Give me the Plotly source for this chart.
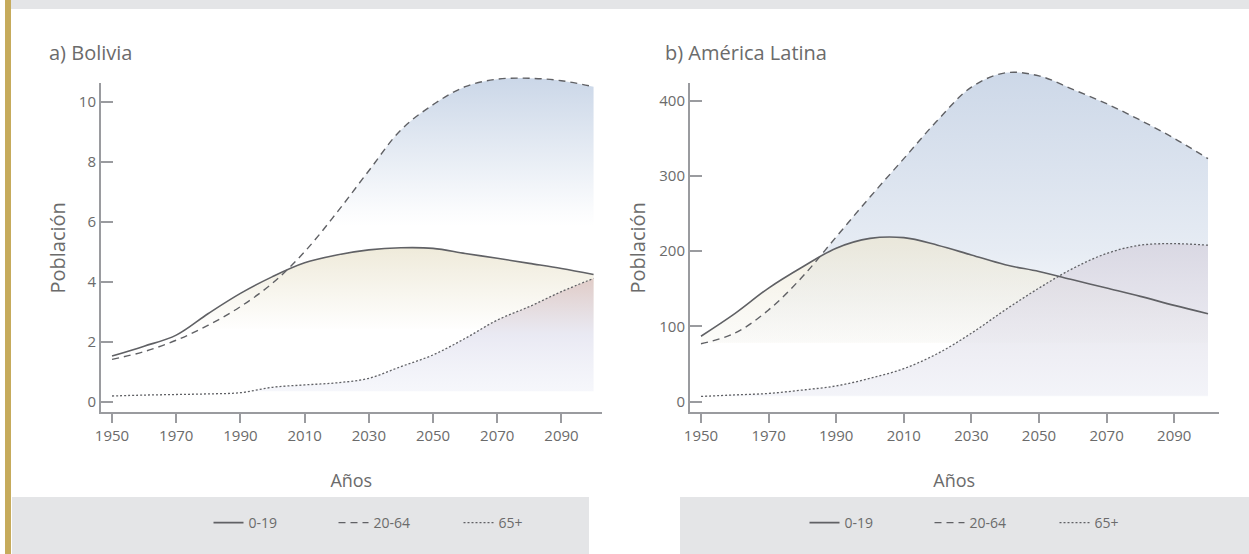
import plotly.graph_objects as go

# ---------------- data ----------------
years = [1950, 1960, 1970, 1980, 1990, 2000, 2010, 2020, 2030, 2040,
         2050, 2060, 2070, 2080, 2090, 2100]

bo_0_19 = [1.52, 1.85, 2.22, 2.94, 3.61, 4.17, 4.63, 4.89, 5.06, 5.13,
           5.11, 4.94, 4.78, 4.61, 4.44, 4.24]
bo_20_64 = [1.41, 1.67, 2.05, 2.55, 3.17, 3.95, 5.0, 6.3, 7.7, 9.06,
            9.9, 10.5, 10.75, 10.78, 10.7, 10.5]
bo_65 = [0.19, 0.22, 0.24, 0.26, 0.30, 0.48, 0.56, 0.63, 0.78, 1.17,
         1.56, 2.11, 2.72, 3.17, 3.67, 4.11]

al_0_19 = [87, 117, 151, 179, 204, 217, 218, 208, 195, 182,
           173, 162, 151, 140, 128, 117]
al_20_64 = [77, 91, 122, 166, 219, 272, 323, 374, 418, 437,
            433, 415, 396, 374, 350, 323]
al_65 = [7, 9, 11, 15.5, 21, 31, 44, 64, 91, 122,
         151, 177, 197, 208, 210, 208]

series_names = ["0-19", "20-64", "65+"]
x_ticks = [1950, 1970, 1990, 2010, 2030, 2050, 2070, 2090]
bo_y_ticks = [0, 2, 4, 6, 8, 10]
al_y_ticks = [0, 100, 200, 300, 400]

# lowest level of each shaded band (where the gradient fades out)
bo_fill_floor = [2.4, 5.85, 0.33]
al_fill_floor = [77.6, 77.6, 6.6]

# ---------------- style ----------------
W, H = 1249, 554
FONT = "Open Sans"
TXT = "#6b6b6b"
AXC = "#9a9b9f"
LINEC = "#606165"
dashes = ["solid", "7px,5px", "2px,2px"]
widths = [1.6, 1.4, 1.3]

def px_x(p):
    return p / W

def px_y(p):
    return 1 - p / H

# gradient colour stops per series (bottom -> top)
bo_grad = [
    [[0, "rgba(236,231,212,0)"], [0.01, "rgba(236,231,212,0.03)"], [1, "rgba(236,231,212,0.85)"]],
    [[0, "rgba(203,215,232,0)"], [0.1, "rgba(203,215,232,0.08)"], [1, "rgba(203,215,232,1)"]],
    [[0, "rgba(238,240,248,0)"], [0.01, "rgba(238,240,248,0.55)"], [0.5, "rgba(228,228,240,0.8)"],
     [1, "rgba(222,200,196,0.9)"]],
]
al_grad = [
    [[0, "rgba(240,236,220,0)"], [0.01, "rgba(244,242,234,0.3)"], [1, "rgba(236,230,208,0.7)"]],
    [[0, "rgba(205,216,232,0)"], [0.01, "rgba(205,216,232,0.05)"], [0.35, "rgba(205,216,232,0.5)"],
     [1, "rgba(205,216,232,1)"]],
    [[0, "rgba(236,238,246,0)"], [0.01, "rgba(238,239,246,0.7)"], [1, "rgba(214,210,222,0.75)"]],
]

fig = go.Figure()

# empty traces so that the display axes are drawn
for xa, ya in (("x", "y"), ("x2", "y2")):
    fig.add_trace(go.Scatter(x=[], y=[], xaxis=xa, yaxis=ya, mode="lines",
                             showlegend=False, hoverinfo="skip"))

panels = [
    dict(data=[bo_0_19, bo_20_64, bo_65], floors=bo_fill_floor, grads=bo_grad,
         xa="x", ya="y3", legend="legend"),
    dict(data=[al_0_19, al_20_64, al_65], floors=al_fill_floor, grads=al_grad,
         xa="x2", ya="y4", legend="legend2"),
]

fill_order = [1, 0, 2]
for p in panels:
    for i in fill_order:
        vals = p["data"][i]
        fig.add_trace(go.Scatter(
            x=years, y=vals, xaxis=p["xa"], yaxis=p["ya"],
            mode="lines", line=dict(width=0, shape="spline"),
            fill="tozeroy",
            fillgradient=dict(type="vertical", colorscale=p["grads"][i],
                              start=p["floors"][i], stop=max(vals)),
            showlegend=False, hoverinfo="skip"))
    for i, name in enumerate(series_names):
        fig.add_trace(go.Scatter(
            x=years, y=p["data"][i], xaxis=p["xa"], yaxis=p["ya"],
            mode="lines", name=name,
            line=dict(color=LINEC, width=widths[i], dash=dashes[i], shape="spline"),
            legend=p["legend"]))

# axis geometry (pixels)
bo_scale, bo_zero = 30.0, 401.7
al_scale, al_zero = 0.7525, 401.7
y_bot, y_top, y_data_top = 412.3, 83.3, 55

def vrange(scale, zero, top):
    return [(zero - y_bot) / scale, (zero - top) / scale]

common_x = dict(showline=True, linecolor=AXC, linewidth=2, ticks="outside", ticklen=9,
                tickwidth=2, tickcolor=AXC, showgrid=False, zeroline=False, automargin=False,
                tickvals=x_ticks, tickfont=dict(family=FONT, size=15, color=TXT),
                title=dict(text="Años", font=dict(family=FONT, size=18, color=TXT), standoff=30),
                ticklabelstandoff=0)
common_y = dict(showline=True, linecolor=AXC, linewidth=2, ticks="inside", ticklen=12,
                tickwidth=1.5, tickcolor=AXC, showgrid=False, zeroline=False, automargin=False,
                tickfont=dict(family=FONT, size=15, color=TXT),
                title=dict(text="Población", font=dict(family=FONT, size=20, color=TXT), standoff=8))

fig.update_layout(
    width=W, height=H,
    margin=dict(l=0, r=0, t=0, b=0, pad=0, autoexpand=False),
    paper_bgcolor="white", plot_bgcolor="rgba(0,0,0,0)",
    xaxis=dict(domain=[px_x(101), px_x(601.6)], range=[1946.57, 2102.5], anchor="y", **common_x),
    yaxis=dict(domain=[px_y(y_bot), px_y(y_top)], range=vrange(bo_scale, bo_zero, y_top),
               anchor="x", tickvals=bo_y_ticks, **common_y),
    xaxis2=dict(domain=[px_x(690), px_x(1218.5)], range=[1946.75, 2103.1], anchor="y2", **common_x),
    yaxis2=dict(domain=[px_y(y_bot), px_y(y_top)], range=vrange(al_scale, al_zero, y_top),
                anchor="x2", tickvals=al_y_ticks, **common_y),
    yaxis3=dict(domain=[px_y(y_bot), px_y(y_data_top)], range=vrange(bo_scale, bo_zero, y_data_top),
                anchor="x", visible=False, automargin=False),
    yaxis4=dict(domain=[px_y(y_bot), px_y(y_data_top)], range=vrange(al_scale, al_zero, y_data_top),
                anchor="x2", visible=False, automargin=False),
    legend=dict(orientation="h", x=px_x(396), xanchor="center", y=px_y(523), yanchor="middle",
                bgcolor="rgba(0,0,0,0)", font=dict(family=FONT, size=14, color=TXT),
                entrywidth=80, entrywidthmode="pixels"),
    legend2=dict(orientation="h", x=px_x(992), xanchor="center", y=px_y(523), yanchor="middle",
                 bgcolor="rgba(0,0,0,0)", font=dict(family=FONT, size=14, color=TXT),
                 entrywidth=80, entrywidthmode="pixels"),
    showlegend=True,
)

# decorative page elements
shapes = [
    dict(type="rect", xref="paper", yref="paper", x0=px_x(11), x1=1, y0=px_y(9), y1=1,
         fillcolor="#e4e5e7", line=dict(width=0), layer="below"),
    dict(type="rect", xref="paper", yref="paper", x0=px_x(5), x1=px_x(11), y0=0, y1=1,
         fillcolor="#c6ab5c", line=dict(width=0), layer="below"),
    dict(type="rect", xref="paper", yref="paper", x0=px_x(12), x1=px_x(589), y0=0, y1=px_y(497),
         fillcolor="#e4e5e7", line=dict(width=0), layer="below"),
    dict(type="rect", xref="paper", yref="paper", x0=px_x(680), x1=1, y0=0, y1=px_y(497),
         fillcolor="#e4e5e7", line=dict(width=0), layer="below"),
]
fig.update_layout(shapes=shapes)

fig.add_annotation(text="a) Bolivia", xref="paper", yref="paper", x=px_x(47), y=px_y(52),
                   xanchor="left", yanchor="middle", showarrow=False,
                   font=dict(family=FONT, size=20, color=TXT))
fig.add_annotation(text="b) América Latina", xref="paper", yref="paper", x=px_x(663), y=px_y(52),
                   xanchor="left", yanchor="middle", showarrow=False,
                   font=dict(family=FONT, size=20, color=TXT))

fig.write_html("out.html", config={"displayModeBar": False},
               post_script="document.body.style.margin='0';document.body.style.overflow='hidden';")
